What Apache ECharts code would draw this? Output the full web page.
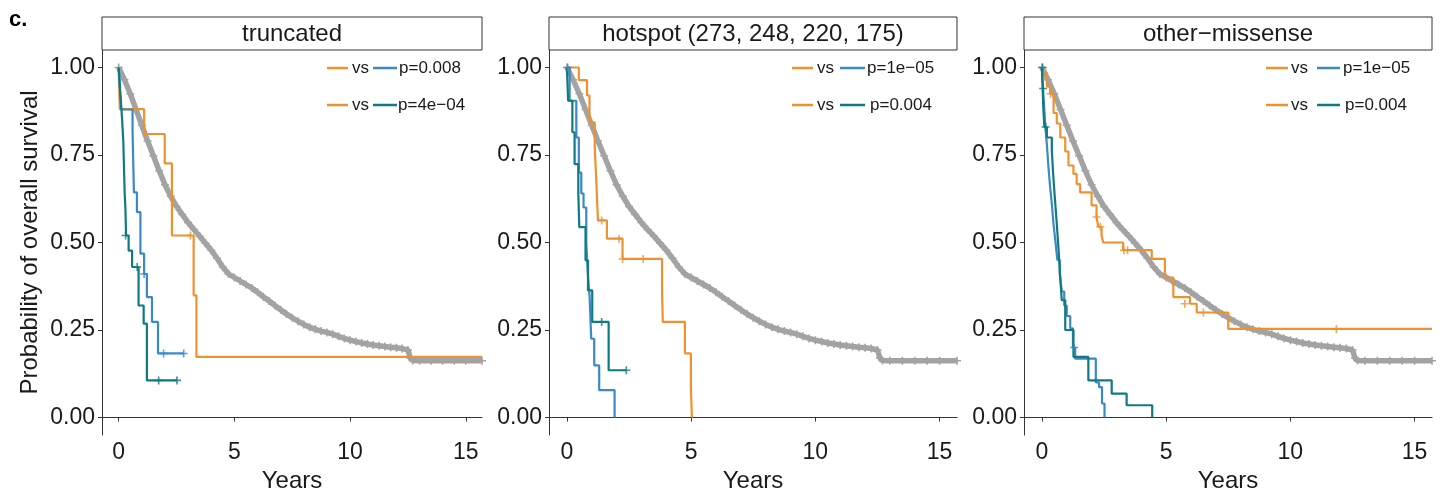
<!DOCTYPE html>
<html>
<head>
<meta charset="utf-8">
<script src="https://cdn.jsdelivr.net/npm/echarts@6/dist/echarts.min.js"></script>
<style>
html,body{margin:0;padding:0;background:#fff;}
#chart{width:1446px;height:493px;}
</style>
</head>
<body>
<div id="chart"></div>
<script>
// ---------- DATA ----------
const panelTitles = ['truncated', 'hotspot (273, 248, 220, 175)', 'other\u2212missense'];
const pLabels = [['p=0.008', 'p=4e\u221204'], ['p=1e\u221205', 'p=0.004'], ['p=1e\u221205', 'p=0.004']];
const xTicks = [0, 5, 10, 15];
const yTicks = [0, 0.25, 0.5, 0.75, 1];
const xTitle = 'Years';
const yTitle = 'Probability of overall survival';
const panelLabel = 'c.';

// reference (grey) curve shared by all panels: [years, survival]
const greyCurve = [[0,1],[0.25,0.965],[0.5,0.925],[0.75,0.88],[1,0.835],[1.25,0.79],[1.5,0.748],[1.75,0.705],[2,0.665],[2.25,0.632],[2.5,0.603],[2.75,0.58],[3,0.557],[3.25,0.537],[3.5,0.518],[3.75,0.498],[4,0.478],[4.25,0.455],[4.5,0.43],[4.75,0.41],[5,0.4],[5.25,0.39],[5.5,0.38],[5.75,0.37],[6,0.358],[6.25,0.345],[6.5,0.333],[6.75,0.32],[7,0.308],[7.25,0.296],[7.5,0.285],[7.75,0.275],[8,0.266],[8.25,0.258],[8.5,0.252],[8.75,0.247],[9,0.243],[9.25,0.238],[9.5,0.232],[9.75,0.226],[10,0.221],[10.25,0.217],[10.5,0.213],[10.75,0.21],[11,0.207],[11.25,0.205],[11.5,0.203],[11.75,0.201],[12,0.199],[12.25,0.197],[12.5,0.193],[12.6,0.17],[12.7,0.163],[13,0.162],[13.5,0.162],[14,0.162],[14.5,0.162],[15,0.162],[15.7,0.162]];

// truncated
const truncOrange = [[0,1],[0.05,0.881],[1.1,0.81],[1.99,0.726],[2.3,0.52],[3.24,0.349],[3.36,0.173],[15.7,0.173]];
const truncBlue = [[0,1],[0.05,0.94],[0.1,0.88],[0.6,0.82],[0.62,0.76],[0.64,0.7],[0.66,0.643],[0.79,0.587],[0.94,0.468],[1.1,0.41],[1.22,0.344],[1.44,0.273],[1.7,0.183],[2.81,0.183]];
const truncTeal = [[0,1],[0.05,0.95],[0.1,0.9],[0.15,0.85],[0.2,0.79],[0.22,0.74],[0.24,0.69],[0.26,0.64],[0.29,0.6],[0.32,0.52],[0.43,0.477],[0.58,0.43],[0.86,0.32],[1.08,0.268],[1.22,0.106],[2.52,0.106]];
const truncOrangeCens = [[3.1,0.52]];
const truncBlueCens = [[1.1,0.41],[1.94,0.183],[2.81,0.183]];
const truncTealCens = [[0.3,0.52],[0.8,0.43],[1.73,0.106],[2.52,0.106]];

// hotspot
const hotOrange = [[0,1],[0.48,0.964],[0.81,0.92],[0.91,0.843],[1.12,0.772],[1.18,0.682],[1.25,0.563],[1.61,0.511],[2.24,0.453],[3.83,0.363],[3.86,0.273],[4.75,0.183],[4.99,0.087],[5.03,0]];
const hotBlue = [[0,1],[0.11,0.905],[0.38,0.8],[0.48,0.7],[0.58,0.64],[0.67,0.6],[0.78,0.5],[0.85,0.4],[0.91,0.35],[0.98,0.225],[1.1,0.149],[1.3,0.078],[1.92,0]];
const hotTeal = [[0,1],[0.05,0.905],[0.22,0.815],[0.31,0.724],[0.46,0.64],[0.5,0.544],[0.75,0.449],[0.85,0.363],[1.02,0.273],[1.68,0.135],[2.39,0.135]];
const hotOrangeCens = [[1.4,0.563],[2.1,0.511],[2.24,0.453],[3.07,0.453]];
const hotBlueCens = [[0.03,1]];
const hotTealCens = [[1.4,0.273],[2.39,0.135]];

// other-missense
const othOrange = [[0,1],[0.06,0.985],[0.2,0.945],[0.33,0.925],[0.47,0.87],[0.6,0.84],[0.74,0.8],[0.94,0.76],[1.07,0.72],[1.27,0.696],[1.4,0.667],[1.54,0.643],[2,0.606],[2.2,0.573],[2.27,0.545],[2.4,0.521],[2.47,0.5],[3.27,0.478],[4.42,0.453],[4.95,0.4],[5.29,0.344],[5.96,0.325],[6.23,0.3],[7.5,0.253],[15.7,0.253]];
const othBlue = [[0,1],[0.04,0.95],[0.08,0.9],[0.14,0.83],[0.2,0.78],[0.27,0.71],[0.33,0.66],[0.4,0.61],[0.47,0.55],[0.55,0.5],[0.62,0.45],[0.72,0.41],[0.8,0.36],[0.9,0.32],[1,0.29],[1.14,0.255],[1.25,0.2],[1.34,0.168],[2.17,0.1],[2.3,0.087],[2.42,0.04],[2.52,0]];
const othTeal = [[0,1],[0.03,0.94],[0.06,0.88],[0.1,0.83],[0.2,0.8],[0.4,0.762],[0.45,0.7],[0.5,0.648],[0.55,0.6],[0.6,0.553],[0.67,0.48],[0.73,0.41],[0.8,0.335],[0.94,0.25],[1.27,0.173],[1.87,0.106],[2.81,0.068],[3.41,0.035],[4.44,0]];
const othOrangeCens = [[0.35,0.925],[2.2,0.573],[2.35,0.545],[3.3,0.478],[3.45,0.478],[5.75,0.325],[6.5,0.3],[11.85,0.253]];
const othBlueCens = [[1.3,0.2]];
const othTealCens = [[0.05,0.94],[0.15,0.83],[0.03,1]];

// ---------- STYLE ----------
const FONT = '"Liberation Sans", Arial, Helvetica, sans-serif';
const C_OR = '#EE922F', C_BL = '#3A89C9', C_TE = '#0F7B80', C_GR = '#A3A3A3';
const AX = '#333333', TXT = '#1a1a1a';
const PLUS = 'path://M4,0H6V4H10V6H6V10H4V6H0V4H4Z';

const grids = [
  {left: 102, top: 50, width: 380, height: 385, outerBoundsMode: 'none', containLabel: false},
  {left: 549, top: 50, width: 408, height: 385, outerBoundsMode: 'none', containLabel: false},
  {left: 1024, top: 50, width: 408, height: 385, outerBoundsMode: 'none', containLabel: false}
];
const legendPos = [
  {o: 327, oe: 348, vs: 352, c: 373, ce: 397, p1: 399, p2: 398},
  {o: 792, oe: 813, vs: 817, c: 840, ce: 865, p1: 867, p2: 870},
  {o: 1266, oe: 1288, vs: 1291, c: 1317, ce: 1340, p1: 1343, p2: 1345}
];
const legendRowY = [68, 105];

const panels = [
  {o: truncOrange, b: truncBlue, t: truncTeal, oc: truncOrangeCens, bc: truncBlueCens, tc: truncTealCens},
  {o: hotOrange, b: hotBlue, t: hotTeal, oc: hotOrangeCens, bc: hotBlueCens, tc: hotTealCens},
  {o: othOrange, b: othBlue, t: othTeal, oc: othOrangeCens, bc: othBlueCens, tc: othTealCens}
];

const xAxes = [], yAxes = [], series = [], graphics = [];
grids.forEach((g, i) => {
  xAxes.push({
    type: 'value', gridIndex: i, min: -0.72, max: 15.7,
    name: xTitle, nameLocation: 'middle', nameGap: 28,
    nameTextStyle: {fontFamily: FONT, fontSize: 24, color: TXT},
    axisLine: {show: true, lineStyle: {color: AX, width: 1}},
    axisTick: {show: true, length: 4, customValues: xTicks, lineStyle: {color: AX}},
    axisLabel: {customValues: xTicks, fontFamily: FONT, fontSize: 23, color: TXT, margin: 6},
    splitLine: {show: false}
  });
  yAxes.push({
    type: 'value', gridIndex: i, min: -0.05, max: 1.05,
    name: i === 0 ? yTitle : '', nameLocation: 'middle', nameGap: 60,
    nameTextStyle: {fontFamily: FONT, fontSize: 24, color: TXT},
    axisLine: {show: true, onZero: false, lineStyle: {color: AX, width: 1}},
    axisTick: {show: true, length: 4, customValues: yTicks, lineStyle: {color: AX}},
    axisLabel: {customValues: yTicks, fontFamily: FONT, fontSize: 23, color: TXT, margin: 7,
      formatter: v => v.toFixed(2)},
    splitLine: {show: false}
  });
  const p = panels[i];
  series.push({
    type: 'line', xAxisIndex: i, yAxisIndex: i, data: greyCurve,
    symbol: PLUS, symbolSize: 8, showSymbol: true, showAllSymbol: true,
    lineStyle: {color: C_GR, width: 5.5}, itemStyle: {color: C_GR}, z: 2, silent: true
  });
  [[p.o, C_OR], [p.b, C_BL], [p.t, C_TE]].forEach(([d, c]) => {
    series.push({type: 'line', step: 'end', xAxisIndex: i, yAxisIndex: i, data: d,
      showSymbol: false, lineStyle: {color: c, width: 2.2}, itemStyle: {color: c}, z: 3, silent: true});
  });
  [[p.oc, C_OR], [p.bc, C_BL], [p.tc, C_TE]].forEach(([d, c]) => {
    series.push({type: 'scatter', xAxisIndex: i, yAxisIndex: i, data: d,
      symbol: PLUS, symbolSize: 8, itemStyle: {color: c}, z: 4, silent: true});
  });
  // strip
  graphics.push({type: 'rect', shape: {x: g.left, y: 17, width: g.width, height: 33},
    style: {fill: '#fff', stroke: AX, lineWidth: 1}, z: 10});
  graphics.push({type: 'text', x: g.left + g.width / 2, y: 34, z: 11,
    style: {text: panelTitles[i], fontFamily: FONT, fontSize: 24, fill: TXT, align: 'center', verticalAlign: 'middle'}});
  // legend
  const L = legendPos[i];
  [C_BL, C_TE].forEach((col, r) => {
    const y = legendRowY[r];
    graphics.push({type: 'line', shape: {x1: L.o, y1: y, x2: L.oe, y2: y}, style: {stroke: C_OR, lineWidth: 2.5}, z: 11});
    graphics.push({type: 'text', x: L.vs, y: y, z: 11,
      style: {text: 'vs', fontFamily: FONT, fontSize: 17, fill: TXT, align: 'left', verticalAlign: 'middle'}});
    graphics.push({type: 'line', shape: {x1: L.c, y1: y, x2: L.ce, y2: y}, style: {stroke: col, lineWidth: 2.5}, z: 11});
    graphics.push({type: 'text', x: r === 0 ? L.p1 : L.p2, y: y, z: 11,
      style: {text: pLabels[i][r], fontFamily: FONT, fontSize: 17, fill: TXT, align: 'left', verticalAlign: 'middle'}});
  });
});
graphics.push({type: 'text', x: 9, y: 20, z: 11,
  style: {text: panelLabel, fontFamily: FONT, fontSize: 22, fontWeight: 'bold', fill: '#000', align: 'left', verticalAlign: 'middle'}});

const chart = echarts.init(document.getElementById('chart'), null, {renderer: 'canvas'});
chart.setOption({
  animation: false,
  backgroundColor: '#fff',
  grid: grids,
  xAxis: xAxes,
  yAxis: yAxes,
  series: series,
  graphic: graphics
});
</script>
</body>
</html>
